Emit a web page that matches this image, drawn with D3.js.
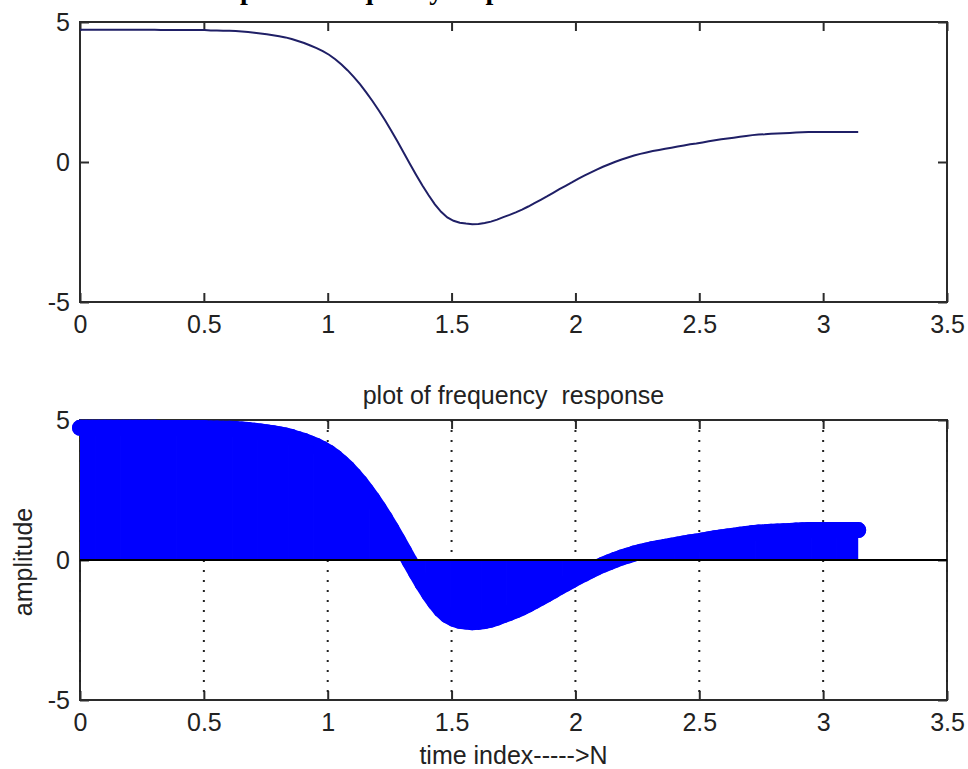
<!DOCTYPE html>
<html>
<head>
<meta charset="utf-8">
<script src="https://cdn.jsdelivr.net/npm/d3@7"></script>
<style>
  body { margin: 0; background: #fff; }
  svg { display: block; }
</style>
</head>
<body>
<script>
const amplitude = [
  4.72, 4.72, 4.72, 4.72, 4.72, 4.72, 4.72, 4.72, 4.72, 4.72,
  4.72, 4.72, 4.72, 4.71, 4.71, 4.71, 4.71, 4.71, 4.71, 4.71,
  4.71, 4.70, 4.70, 4.69, 4.69, 4.68, 4.66, 4.64, 4.62, 4.59,
  4.56, 4.53, 4.49, 4.45, 4.39, 4.32, 4.25, 4.16, 4.07, 3.96,
  3.83, 3.67, 3.48, 3.27, 3.03, 2.77, 2.48, 2.17, 1.84, 1.49,
  1.12, 0.73, 0.33, -0.07, -0.46, -0.84, -1.19, -1.51, -1.78, -1.98,
  -2.10, -2.17, -2.20, -2.22, -2.21, -2.18, -2.13, -2.06, -1.97, -1.89,
  -1.80, -1.70, -1.59, -1.47, -1.35, -1.23, -1.10, -0.97, -0.85, -0.73,
  -0.60, -0.49, -0.38, -0.27, -0.17, -0.08, 0.01, 0.09, 0.16, 0.23,
  0.29, 0.34, 0.39, 0.43, 0.47, 0.51, 0.55, 0.59, 0.63, 0.66,
  0.70, 0.74, 0.78, 0.81, 0.84, 0.87, 0.90, 0.93, 0.96, 0.98,
  0.99, 1.01, 1.02, 1.03, 1.04, 1.05, 1.06, 1.07, 1.07, 1.07,
  1.07, 1.07, 1.07, 1.07, 1.07, 1.07
];
const step = Math.PI / (amplitude.length - 1);
const omega = amplitude.map((_, i) => i * step);

const xTicks = [0, 0.5, 1, 1.5, 2, 2.5, 3, 3.5];
const xTickLabels = ["0", "0.5", "1", "1.5", "2", "2.5", "3", "3.5"];
const yTicks = [-5, 0, 5];
const yTickLabels = ["-5", "0", "5"];

const W = 968, H = 769;
const left = 80, right = 947;
const font = "'Liberation Sans', Arial, Helvetica, sans-serif";
const axisColor = "#2b2b2b";
const markerR = 8;

const svg = d3.select("body").append("svg")
    .attr("width", W)
    .attr("height", H);

const x = d3.scaleLinear().domain([0, 3.5]).range([left, right]);

// page heading above the figure (cut off at the top edge, as in the source)
svg.append("text")
    .attr("x", 240)
    .attr("y", -1)
    .attr("font-family", "'Liberation Serif', 'Times New Roman', serif")
    .attr("font-weight", "bold")
    .attr("font-size", 28)
    .attr("fill", "#000")
    .text("plot of frequency response");

function drawAxes(top, bottom) {
    const y = d3.scaleLinear().domain([-5, 5]).range([bottom, top]);
    const g = svg.append("g").attr("color", axisColor);

    // box
    g.append("rect")
        .attr("x", left).attr("y", top)
        .attr("width", right - left).attr("height", bottom - top)
        .attr("fill", "none")
        .attr("stroke", axisColor)
        .attr("stroke-width", 2);

    g.append("g")
        .attr("transform", `translate(0,${bottom})`)
        .call(d3.axisBottom(x).tickValues(xTicks)
            .tickFormat((d, i) => xTickLabels[i])
            .tickSizeInner(-9).tickSizeOuter(0).tickPadding(13));
    g.append("g")
        .attr("transform", `translate(0,${top})`)
        .call(d3.axisTop(x).tickValues(xTicks).tickFormat("")
            .tickSizeInner(-9).tickSizeOuter(0));
    const leftAxis = g.append("g")
        .attr("transform", `translate(${left},0)`)
        .call(d3.axisLeft(y).tickValues(yTicks)
            .tickFormat((d, i) => yTickLabels[i])
            .tickSizeInner(-9).tickSizeOuter(0).tickPadding(10));
    g.append("g")
        .attr("transform", `translate(${right},0)`)
        .call(d3.axisRight(y).tickValues(yTicks).tickFormat("")
            .tickSizeInner(-9).tickSizeOuter(0));

    g.selectAll(".domain").remove();
    g.selectAll(".tick line").attr("stroke-width", 2);
    g.selectAll("text")
        .attr("font-family", font)
        .attr("font-size", 25)
        .attr("fill", "#222");
    leftAxis.selectAll("text").attr("dy", "0.34em");

    return {g, y};
}

// ---- top panel: line plot
const topPanel = drawAxes(22, 302);
const line = d3.line()
    .x((d, i) => x(omega[i]))
    .y(d => topPanel.y(d));

svg.append("path")
    .datum(amplitude)
    .attr("d", line)
    .attr("fill", "none")
    .attr("stroke", "#1f1f66")
    .attr("stroke-width", 2);

// ---- bottom panel: stem plot
const botPanel = drawAxes(420, 700);
const yb = botPanel.y;

// dotted vertical grid
botPanel.g.append("g")
    .selectAll("line")
    .data(xTicks)
    .join("line")
    .attr("x1", d => x(d)).attr("x2", d => x(d))
    .attr("y1", 420).attr("y2", 700)
    .attr("stroke", "#222")
    .attr("stroke-width", 2)
    .attr("stroke-dasharray", "2,8");

svg.append("defs").append("clipPath")
    .attr("id", "stem-clip")
  .append("rect")
    .attr("x", x(0)).attr("y", 0)
    .attr("width", x(Math.PI) - x(0)).attr("height", H);

const stemW = x(step) - x(0) + 0.8;
svg.append("g")
    .attr("clip-path", "url(#stem-clip)")
  .selectAll("line")
  .data(amplitude)
  .join("line")
    .attr("x1", (d, i) => x(omega[i]))
    .attr("x2", (d, i) => x(omega[i]))
    .attr("y1", yb(0))
    .attr("y2", d => yb(d))
    .attr("stroke", "#0000ff")
    .attr("stroke-width", stemW);

// the markers sit so close together that they merge into a band
const markerLine = d3.line()
    .x((d, i) => x(omega[i]))
    .y(d => yb(d));

svg.append("path")
    .datum(amplitude)
    .attr("d", markerLine)
    .attr("fill", "none")
    .attr("stroke", "#0000ff")
    .attr("stroke-width", markerR * 2)
    .attr("stroke-linejoin", "round")
    .attr("stroke-linecap", "round");

svg.append("g")
  .selectAll("circle")
  .data(amplitude)
  .join("circle")
    .attr("cx", (d, i) => x(omega[i]))
    .attr("cy", d => yb(d))
    .attr("r", markerR)
    .attr("fill", "#0000ff");

// stem baseline
svg.append("line")
    .attr("x1", x(0)).attr("x2", x(3.5))
    .attr("y1", yb(0)).attr("y2", yb(0))
    .attr("stroke", "#000")
    .attr("stroke-width", 2);

// labels
svg.append("text")
    .attr("x", (left + right) / 2)
    .attr("y", 404)
    .attr("text-anchor", "middle")
    .attr("font-family", font)
    .attr("font-size", 25)
    .attr("fill", "#222")
    .style("white-space", "pre")
    .text("plot of frequency  response");

svg.append("text")
    .attr("x", (left + right) / 2)
    .attr("y", 764)
    .attr("text-anchor", "middle")
    .attr("font-family", font)
    .attr("font-size", 25)
    .attr("fill", "#222")
    .text("time index----->N");

svg.append("text")
    .attr("transform", `translate(32,562) rotate(-90)`)
    .attr("text-anchor", "middle")
    .attr("font-family", font)
    .attr("font-size", 25)
    .attr("fill", "#222")
    .text("amplitude");
</script>
</body>
</html>
